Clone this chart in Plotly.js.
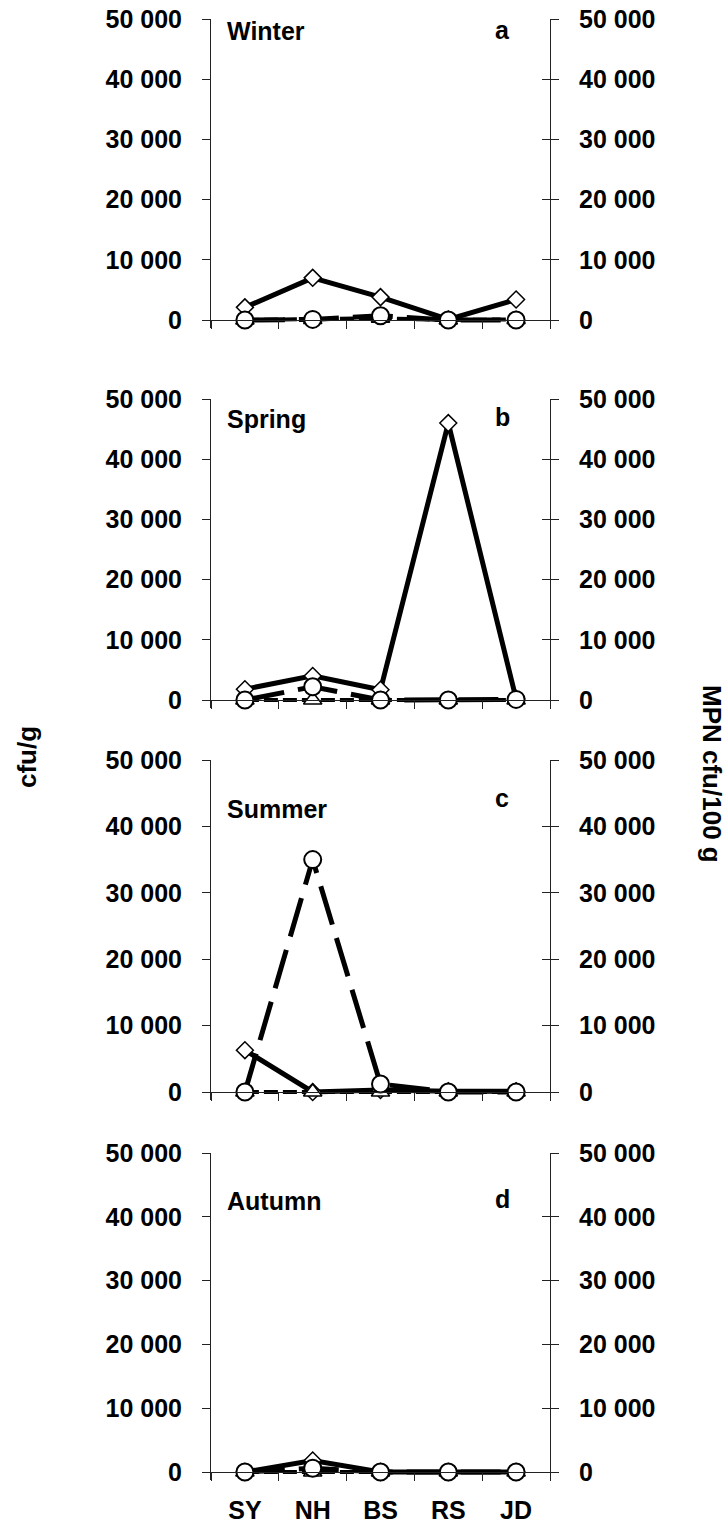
<!DOCTYPE html>
<html><head><meta charset="utf-8">
<script src="https://cdn.plot.ly/plotly-3.0.1.min.js"></script>
<style>html,body{margin:0;padding:0;background:#fff}#chart{width:726px;height:1523px}</style>
</head><body><div id="chart"></div>
<script>
// ---- data ----
const categories = ['SY', 'NH', 'BS', 'RS', 'JD'];
const seasons = ['Winter', 'Spring', 'Summer', 'Autumn'];
const panelLetters = ['a', 'b', 'c', 'd'];
const yTickVals = [0, 10000, 20000, 30000, 40000, 50000];
const yTickText = ['0', '10 000', '20 000', '30 000', '40 000', '50 000'];
const leftTitle = 'cfu/g';
const rightTitle = 'MPN cfu/100 g';

const winterDiamond = [2100, 7000, 3800, 100, 3400];
const winterTriangle = [0, 100, 300, 0, 100];
const winterCircle = [0, 100, 700, 0, 0];

const springDiamond = [1800, 4000, 1700, 46000, 200];
const springTriangle = [0, 0, 0, 0, 0];
const springCircle = [0, 2200, 0, 0, 100];

const summerDiamond = [6300, 0, 300, 100, 100];
const summerTriangle = [0, 0, 0, 0, 0];
const summerCircle = [0, 35000, 1200, 0, 0];

const autumnDiamond = [0, 1800, 0, 0, 0];
const autumnTriangle = [0, 0, 0, 0, 0];
const autumnCircle = [0, 600, 0, 0, 0];

const diamondSeries = [winterDiamond, springDiamond, summerDiamond, autumnDiamond];
const triangleSeries = [winterTriangle, springTriangle, summerTriangle, autumnTriangle];
const circleSeries = [winterCircle, springCircle, summerCircle, autumnCircle];

// ---- layout geometry (pixels) ----
const W = 726, H = 1523;
const plotLeft = 211, plotRight = 550, below = 8;
const panels = [
  {top: 19, zero: 320, labelY: 31, letterY: 30},
  {top: 399, zero: 700, labelY: 419, letterY: 417},
  {top: 760, zero: 1092, labelY: 809, letterY: 798},
  {top: 1153, zero: 1472, labelY: 1201, letterY: 1199}
];
const FONT = 'Liberation Sans, Arial, sans-serif';
const tickFont = {family: FONT, size: 25, weight: 700, color: '#000'};
const axisColor = '#222';

const traces = [];
const layout = {
  width: W, height: H,
  margin: {l: 0, r: 0, t: 0, b: 0},
  paper_bgcolor: '#fff', plot_bgcolor: 'rgba(0,0,0,0)',
  showlegend: false,
  annotations: []
};

panels.forEach((p, i) => {
  const xi = i + 1;
  const xName = xi === 1 ? 'x' : 'x' + xi;
  const yL = 3 * i + 1, yR = 3 * i + 2, yRi = 3 * i + 3;
  const yLName = yL === 1 ? 'y' : 'y' + yL;
  const yRName = 'y' + yR, yRiName = 'y' + yRi;
  const domain = [1 - (p.zero + below) / H, 1 - p.top / H];
  const range = [-below * 50000 / (p.zero - p.top), 50000];

  layout['xaxis' + (xi === 1 ? '' : xi)] = {
    domain: [plotLeft / W, plotRight / W], range: [-0.5, 4.5], type: 'category',
    anchor: 'free', position: 1 - p.zero / H,
    showline: true, linecolor: axisColor, linewidth: 1,
    ticks: 'outside', tickson: 'boundaries', ticklen: 8, tickwidth: 1, tickcolor: axisColor,
    showticklabels: i === 3, tickfont: tickFont, ticklabelstandoff: 16,
    showgrid: false, zeroline: false, fixedrange: true
  };
  const baseY = {
    domain: domain, range: range, anchor: xName,
    showline: true, linecolor: axisColor, linewidth: 1,
    ticklen: 8, tickwidth: 1, tickcolor: axisColor,
    tickmode: 'array', tickvals: yTickVals, ticktext: yTickText,
    tickfont: tickFont, ticklabelstandoff: 15,
    showgrid: false, zeroline: false, fixedrange: true
  };
  layout['yaxis' + (yL === 1 ? '' : yL)] = Object.assign({}, baseY, {ticks: 'outside', side: 'left'});
  layout['yaxis' + yR] = Object.assign({}, baseY, {ticks: 'outside', side: 'right', overlaying: yLName});
  layout['yaxis' + yRi] = Object.assign({}, baseY, {ticks: 'inside', side: 'right', overlaying: yLName, showticklabels: false});

  // empty traces to make sure overlay axes are drawn
  traces.push({x: [], y: [], xaxis: xName, yaxis: yRName, type: 'scatter', mode: 'lines', showlegend: false, hoverinfo: 'skip'});
  traces.push({x: [], y: [], xaxis: xName, yaxis: yRiName, type: 'scatter', mode: 'lines', showlegend: false, hoverinfo: 'skip'});

  traces.push({
    x: categories, y: diamondSeries[i], xaxis: xName, yaxis: yLName,
    type: 'scatter', mode: 'lines+markers', cliponaxis: false, showlegend: false,
    line: {color: '#000', width: 5},
    marker: {symbol: 'diamond', size: 13, color: '#fff', line: {color: '#000', width: 1.5}}
  });
  traces.push({
    x: categories, y: triangleSeries[i], xaxis: xName, yaxis: yLName,
    type: 'scatter', mode: 'lines+markers', cliponaxis: false, showlegend: false,
    line: {color: '#000', width: 4, dash: '14px,5px'},
    marker: {symbol: 'triangle-up', size: 16, color: '#fff', line: {color: '#000', width: 1.5}}
  });
  traces.push({
    x: categories, y: circleSeries[i], xaxis: xName, yaxis: yLName,
    type: 'scatter', mode: 'lines+markers', cliponaxis: false, showlegend: false,
    line: {color: '#000', width: 5, dash: '40px,14px'},
    marker: {symbol: 'circle', size: 17, color: '#fff', line: {color: '#000', width: 2}}
  });

  layout.annotations.push({
    text: seasons[i], xref: 'paper', yref: 'paper', x: 225 / W, y: 1 - p.labelY / H,
    xanchor: 'left', yanchor: 'middle', showarrow: false,
    font: {family: FONT, size: 25, weight: 700, color: '#000'}
  });
  layout.annotations.push({
    text: panelLetters[i], xref: 'paper', yref: 'paper', x: 502 / W, y: 1 - p.letterY / H,
    xanchor: 'center', yanchor: 'middle', showarrow: false,
    font: {family: FONT, size: 25, weight: 700, color: '#000'}
  });
});

layout.annotations.push({
  text: leftTitle, xref: 'paper', yref: 'paper', x: 27 / W, y: 1 - 757 / H,
  xanchor: 'center', yanchor: 'middle', textangle: -90, showarrow: false,
  font: {family: FONT, size: 26, weight: 700, color: '#000'}
});
layout.annotations.push({
  text: rightTitle, xref: 'paper', yref: 'paper', x: 712 / W, y: 1 - 774 / H,
  xanchor: 'center', yanchor: 'middle', textangle: 90, showarrow: false,
  font: {family: FONT, size: 26, weight: 700, color: '#000'}
});

Plotly.newPlot('chart', traces, layout, {staticPlot: true, displayModeBar: false});
</script></body></html>
